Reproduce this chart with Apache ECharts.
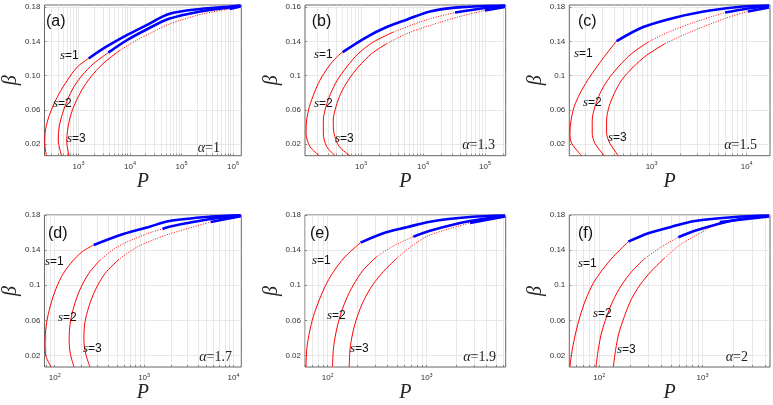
<!DOCTYPE html>
<html>
<head>
<meta charset="utf-8">
<script src="https://cdn.jsdelivr.net/npm/echarts@6/dist/echarts.min.js"></script>
<style>
  html, body { margin: 0; padding: 0; background: #fff; }
  #chart { width: 773px; height: 405px; }
</style>
</head>
<body>
<div id="chart"></div>
<script>
// panel (a), alpha = 1
const pA1 = [238, 221, 224, 253, 315, 421, 608, 944, 1570, 3530, 8490, 20500, 57000, 232000, 869000, 1400000]
const bA1 = [0.0064, 0.0208, 0.0325, 0.048, 0.0635, 0.079, 0.0946, 0.110, 0.120, 0.134, 0.147, 0.1586, 0.172, 0.1779, 0.1808, 0.1819]
const pA2 = [468, 403, 421, 489, 608, 813, 1180, 1960, 3790, 8490, 20500, 57000, 232000, 869000, 1400000]
const bA2 = [0.0064, 0.0247, 0.040, 0.0558, 0.0713, 0.0868, 0.1004, 0.114, 0.1268, 0.141, 0.1536, 0.1664, 0.175, 0.1796, 0.1814]
const pA3 = [653, 590, 626, 725, 916, 1265, 1963, 3270, 6340, 13200, 27400, 57000, 232000, 869000, 1400000]
const bA3 = [0.0064, 0.0227, 0.040, 0.0558, 0.0713, 0.0868, 0.1024, 0.1159, 0.1295, 0.141, 0.1508, 0.160, 0.1714, 0.1779, 0.1808]

// panel (b), alpha = 1.3
const pB1 = [212, 150, 130, 133, 147, 175, 218, 297, 406, 507, 1235, 2600, 5460, 13000, 42600, 210000]
const bB1 = [0.0064, 0.0169, 0.0325, 0.048, 0.0635, 0.079, 0.0946, 0.110, 0.1217, 0.1275, 0.145, 0.1567, 0.1653, 0.175, 0.180, 0.1819]
const pB2 = [381, 280, 247, 247, 272, 324, 415, 588, 904, 1580, 3320, 6980, 13000, 32800, 100000, 210000]
const bB2 = [0.0064, 0.0169, 0.0325, 0.048, 0.0635, 0.079, 0.0946, 0.110, 0.1257, 0.1392, 0.1508, 0.1598, 0.1664, 0.1738, 0.179, 0.1814]
const pB3 = [665, 447, 367, 357, 395, 471, 624, 904, 1490, 2600, 5460, 13000, 39500, 100000, 210000]
const bB3 = [0.0064, 0.0169, 0.0325, 0.048, 0.0635, 0.079, 0.0946, 0.110, 0.1257, 0.1373, 0.149, 0.1586, 0.1691, 0.1761, 0.1802]

// panel (c), alpha = 1.5
const pC1 = [183, 144, 138, 142, 153, 176, 212, 264, 336, 428, 816, 1830, 4110, 9200, 17200]
const bC1 = [0.0064, 0.0208, 0.0325, 0.048, 0.0635, 0.079, 0.0946, 0.110, 0.1257, 0.1403, 0.1567, 0.1683, 0.1761, 0.1808, 0.1819]
const pC2 = [317, 253, 237, 237, 253, 286, 344, 445, 615, 921, 1500, 2860, 5920, 10300, 17200]
const bC2 = [0.0064, 0.0208, 0.0325, 0.048, 0.0635, 0.079, 0.0946, 0.110, 0.1257, 0.1392, 0.1508, 0.1625, 0.1738, 0.1785, 0.1814]
const pC3 = [445, 364, 336, 336, 356, 404, 483, 640, 885, 1380, 2240, 5920, 10300, 17200]
const bC3 = [0.0064, 0.0208, 0.0325, 0.048, 0.0635, 0.079, 0.0946, 0.110, 0.1237, 0.1373, 0.1482, 0.1668, 0.175, 0.1796]

// panel (d), alpha = 1.7
const pD1 = [91, 80, 78, 80, 87, 99, 119, 151, 203, 273, 584, 1150, 1910, 5530, 12000]
const bD1 = [0.007, 0.0189, 0.0341, 0.053, 0.072, 0.091, 0.1098, 0.125, 0.1382, 0.1459, 0.1584, 0.1667, 0.1732, 0.1781, 0.1797]
const pD2 = [164, 149, 145, 149, 164, 191, 241, 323, 473, 753, 1250, 1600, 1910, 5530, 12000]
const bD2 = [0.007, 0.0227, 0.0379, 0.0568, 0.0757, 0.0947, 0.1137, 0.1288, 0.1421, 0.1523, 0.161, 0.164, 0.1667, 0.1754, 0.1791]
const pD3 = [247, 221, 212, 217, 241, 285, 367, 514, 785, 1250, 1910, 5530, 12000]
const bD3 = [0.007, 0.0227, 0.0379, 0.0568, 0.0757, 0.0947, 0.1137, 0.1288, 0.1421, 0.1515, 0.1584, 0.172, 0.1785]

// panel (e), alpha = 1.9
const pE1 = [60.4, 61.4, 65.2, 71.6, 82.3, 97.7, 121, 156, 215, 365, 628, 1080, 2740, 6180]
const bE1 = [0.007, 0.0265, 0.0455, 0.0643, 0.0833, 0.1023, 0.1194, 0.1345, 0.1485, 0.1592, 0.166, 0.1724, 0.1777, 0.1794]
const pE2 = [112, 114, 121, 133, 153, 182, 229, 313, 460, 733, 1080, 2740, 6180]
const bE2 = [0.007, 0.0265, 0.0455, 0.0643, 0.0833, 0.1004, 0.1174, 0.1326, 0.1447, 0.1553, 0.1621, 0.1731, 0.1788]
const pE3 = [165, 168, 179, 199, 233, 285, 365, 498, 705, 1080, 2740, 6180]
const bE3 = [0.007, 0.0265, 0.0455, 0.0643, 0.0833, 0.1004, 0.1155, 0.1307, 0.1447, 0.1572, 0.1709, 0.1783]

// panel (f), alpha = 2
const pF1 = [52, 54.8, 59.1, 65.1, 73.8, 87.5, 107, 137, 191, 298, 502, 843, 2060, 4400]
const bF1 = [0.007, 0.0265, 0.0455, 0.0643, 0.0833, 0.1023, 0.1174, 0.1326, 0.1496, 0.1592, 0.1667, 0.1732, 0.1777, 0.1794]
const pF2 = [92.9, 97.8, 105, 118, 137, 165, 206, 277, 402, 582, 843, 2060, 4400]
const bF2 = [0.007, 0.0265, 0.0455, 0.0643, 0.0833, 0.1004, 0.1155, 0.1307, 0.1439, 0.1546, 0.1621, 0.1743, 0.1788]
const pF3 = [137, 144, 155, 175, 203, 248, 316, 426, 604, 843, 1470, 4400]
const bF3 = [0.007, 0.0265, 0.0455, 0.0643, 0.0833, 0.1004, 0.1155, 0.1307, 0.1459, 0.1561, 0.172, 0.1783]

// beta where each curve turns dotted / blue (s=1, s=2, s=3)
const dotFromA = [null, null, 0.1295], blueFromA = [0.120, 0.1268, 0.1779]
const dotFromB = [null, 0.1508, 0.1373], blueFromB = [0.1275, 0.1738, 0.1761]
const dotFromC = [null, 0.1392, 0.1373], blueFromC = [0.1403, 0.1738, 0.175]
const dotFromD = [null, 0.1288, 0.1288], blueFromD = [0.1459, 0.164, 0.172]
const dotFromE = [null, 0.1326, 0.1307], blueFromE = [0.1485, 0.1553, 0.1709]
const dotFromF = [null, 0.1307, 0.1307], blueFromF = [0.1496, 0.1546, 0.172]

// axes
const panelNames = ['(a)', '(b)', '(c)', '(d)', '(e)', '(f)']
const alphaValues = ['1', '1.3', '1.5', '1.7', '1.9', '2']
const xMinList = [218, 125, 136, 76.8, 59, 51.3]
const xMaxList = [1.45e6, 2.16e5, 17600, 12200, 6280, 4490]
const xLabelsA = [1e3, 1e4, 1e5, 1e6]
const xLabelsB = [1e3, 1e4, 1e5]
const xLabelsC = [1e3, 1e4]
const xLabelsD = [1e2, 1e3, 1e4]
const xLabelsE = [1e2, 1e3]
const xLabelsF = [1e2, 1e3]
const yMinList = [0.0063, 0.0063, 0.0063, 0.0068, 0.0068, 0.0068]
const yMaxList = [0.1825, 0.1825, 0.1825, 0.18, 0.18, 0.18]
const yTickValues = [0.02, 0.06, 0.10, 0.14, 0.18]
const yLabelsA = ['0.02', '0.06', '0.10', '0.14', '0.18']
const yLabelsB = ['0.02', '0.06', '0.1', '0.14', '0.16']
const yLabelsC = ['0.02', '0.06', '0.1', '0.14', '0.18']

const curves = [
  [[pA1, bA1], [pA2, bA2], [pA3, bA3]],
  [[pB1, bB1], [pB2, bB2], [pB3, bB3]],
  [[pC1, bC1], [pC2, bC2], [pC3, bC3]],
  [[pD1, bD1], [pD2, bD2], [pD3, bD3]],
  [[pE1, bE1], [pE2, bE2], [pE3, bE3]],
  [[pF1, bF1], [pF2, bF2], [pF3, bF3]]
]
const dotFrom = [dotFromA, dotFromB, dotFromC, dotFromD, dotFromE, dotFromF]
const blueFrom = [blueFromA, blueFromB, blueFromC, blueFromD, blueFromE, blueFromF]
const xLabels = [xLabelsA, xLabelsB, xLabelsC, xLabelsD, xLabelsE, xLabelsF]
const yLabels = [yLabelsA, yLabelsB, yLabelsC, yLabelsC, yLabelsC, yLabelsC]

// layout
const colLeft = [41.3, 305, 569.3]
const colWidth = [200, 200.7, 200.7]
const rowTop = [5, 215]
const rowHeight = [150.7, 152]
const panelLabelPos = [[46, 22], [311.7, 22], [578, 22], [48, 234], [310, 234], [578, 234]]
const sLabelPos = [
  [[60, 56], [53, 104], [67, 139]],
  [[314, 55], [314, 104], [335, 139]],
  [[574, 54], [583, 103], [608, 137.5]],
  [[45, 262], [58, 317.5], [83, 349]],
  [[312, 261], [327, 316], [350, 349]],
  [[578, 264], [593, 314], [617, 350]]
]
const alphaPos = [[220, 148], [495, 145], [757, 145], [232, 357], [496, 357], [748, 357]]

const axisColor = '#404040'
const gridColor = '#e2e2e2'

function logTicks (min, max) {
  const out = []
  for (let e = Math.floor(Math.log10(min)); e <= Math.ceil(Math.log10(max)); e++) {
    for (let m = 1; m <= 9; m++) {
      const v = m * Math.pow(10, e)
      if (v >= min && v <= max) out.push(v)
    }
  }
  return out
}

function part (P, B, lo, hi) {
  const out = []
  for (let k = 0; k < P.length; k++) {
    if (B[k] >= lo && B[k] <= hi) out.push([P[k], B[k]])
  }
  return out
}

const myChart = echarts.init(document.getElementById('chart'))

const grid = [], xAxis = [], yAxis = [], series = [], graphic = []

for (let i = 0; i < 6; i++) {
  const col = i % 3
  const row = Math.floor(i / 3)
  grid.push({
    left: colLeft[col],
    top: rowTop[row],
    width: colWidth[col],
    height: rowHeight[row],
    show: true,
    borderColor: axisColor,
    borderWidth: 0.8,
    backgroundColor: '#fff'
  })
  xAxis.push({
    type: 'log',
    logBase: 10,
    gridIndex: i,
    min: xMinList[i],
    max: xMaxList[i],
    axisLine: { show: false },
    axisTick: {
      show: true,
      inside: true,
      length: 2,
      customValues: logTicks(xMinList[i], xMaxList[i]),
      lineStyle: { color: axisColor, width: 0.6 }
    },
    axisLabel: {
      customValues: xLabels[i],
      margin: 5,
      color: '#333',
      formatter: function (v) {
        return '{b|10}{e|' + Math.round(Math.log10(v)) + '}'
      },
      rich: {
        b: { fontSize: 8, fontFamily: 'Liberation Sans', color: '#333', lineHeight: 12 },
        e: { fontSize: 5.5, fontFamily: 'Liberation Sans', color: '#333', lineHeight: 7, verticalAlign: 'top' }
      }
    },
    splitLine: { show: true, lineStyle: { color: gridColor, width: 0.8 } },
    name: 'P',
    nameLocation: 'middle',
    nameGap: 16,
    nameTextStyle: { fontFamily: 'Liberation Serif', fontStyle: 'italic', fontSize: 20, color: '#262626' }
  })
  const labels = yLabels[i]
  yAxis.push({
    type: 'value',
    gridIndex: i,
    min: yMinList[i],
    max: yMaxList[i],
    axisLine: { show: false },
    axisTick: {
      show: true,
      inside: true,
      length: 2,
      customValues: yTickValues,
      lineStyle: { color: axisColor, width: 0.6 }
    },
    axisLabel: {
      customValues: yTickValues,
      margin: 4,
      fontSize: 8,
      fontFamily: 'Liberation Sans',
      color: '#333',
      formatter: function (v) {
        const k = yTickValues.findIndex(function (t) { return Math.abs(t - v) < 1e-9 })
        return k >= 0 ? labels[k] : ''
      }
    },
    splitLine: { show: true, lineStyle: { color: gridColor, width: 0.8 } },
    name: 'β',
    nameLocation: 'middle',
    nameGap: 17,
    nameTextStyle: { fontFamily: 'Liberation Serif', fontStyle: 'italic', fontSize: 20, color: '#262626' }
  })

  for (let j = 0; j < 3; j++) {
    const P = curves[i][j][0]
    const B = curves[i][j][1]
    const dot = dotFrom[i][j]
    const blue = blueFrom[i][j]
    const solidHi = dot !== null ? dot : blue
    series.push({
      type: 'line',
      xAxisIndex: i,
      yAxisIndex: i,
      data: part(P, B, -1, solidHi),
      symbol: 'none',
      smooth: 0.3,
      lineStyle: { color: '#ff0000', width: 1 },
      z: 2
    })
    if (dot !== null) {
      series.push({
        type: 'line',
        xAxisIndex: i,
        yAxisIndex: i,
        data: part(P, B, dot, blue),
        symbol: 'none',
        smooth: 0.3,
        lineStyle: { color: '#ff0000', width: 1, type: [1, 1.5] },
        z: 2
      })
    }
    series.push({
      type: 'line',
      xAxisIndex: i,
      yAxisIndex: i,
      data: part(P, B, blue, 1),
      symbol: 'none',
      smooth: 0.3,
      lineStyle: { color: '#0000ff', width: 2.6 },
      z: 3
    })

    graphic.push({
      type: 'text',
      x: sLabelPos[i][j][0],
      y: sLabelPos[i][j][1],
      z: 10,
      style: {
        text: '{i|s}=' + (j + 1),
        fontSize: 12,
        fontFamily: 'Liberation Sans',
        fill: '#111',
        verticalAlign: 'middle',
        rich: {
          i: { fontSize: 13, fontFamily: 'Liberation Serif', fontStyle: 'italic', fill: '#111' }
        }
      }
    })
  }

  graphic.push({
    type: 'text',
    x: panelLabelPos[i][0],
    y: panelLabelPos[i][1],
    z: 10,
    style: {
      text: panelNames[i],
      fontSize: 16,
      fontFamily: 'Liberation Sans',
      fill: '#111',
      verticalAlign: 'middle'
    }
  })
  graphic.push({
    type: 'text',
    x: alphaPos[i][0],
    y: alphaPos[i][1],
    z: 10,
    style: {
      text: '{i|α}=' + alphaValues[i],
      fontSize: 14,
      fontFamily: 'Liberation Serif',
      fill: '#222',
      align: 'right',
      verticalAlign: 'middle',
      rich: {
        i: { fontSize: 14, fontFamily: 'Liberation Serif', fontStyle: 'italic', fill: '#222' }
      }
    }
  })
}

const option = {
  animation: false,
  backgroundColor: '#fff',
  grid: grid,
  xAxis: xAxis,
  yAxis: yAxis,
  series: series,
  graphic: graphic
}

option && myChart.setOption(option)

window.addEventListener('resize', function () {
  myChart.resize()
})
</script>
</body>
</html>
